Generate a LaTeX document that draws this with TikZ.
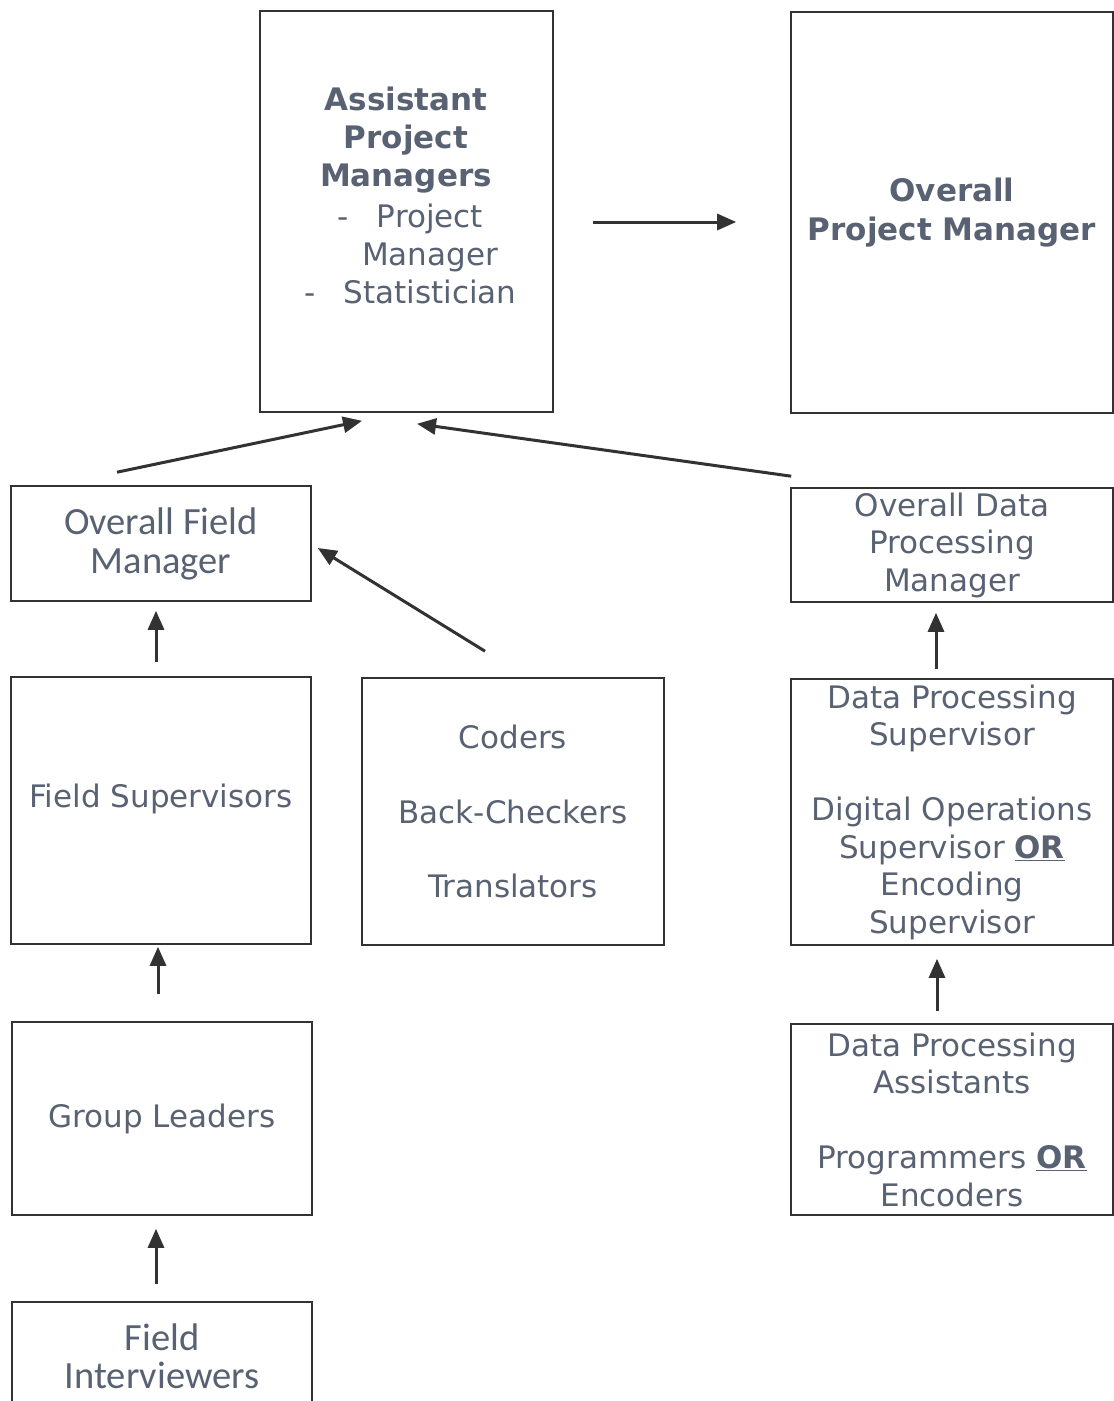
\documentclass[tikz,border=0pt]{standalone}
\usepackage{fontspec}
\setmainfont{DejaVu Sans}
\newfontfamily\calib{Carlito}
\usetikzlibrary{arrows.meta}
\definecolor{txtgray}{RGB}{88,98,114}
\definecolor{linegray}{RGB}{50,50,50}

\begin{document}
\begin{tikzpicture}[x=1pt,y=-1pt,
    box/.style={draw=linegray, line width=1.6pt, text=txtgray, align=center,
      font=\fontsize{31}{37.5}\selectfont},
    txt/.style={text=txtgray, align=center, font=\fontsize{31}{37.5}\selectfont},
    arr/.style={draw=linegray, line width=3pt,
      -{Triangle[length=19pt,width=16pt]}}]
    % Page frame (pixel grid, y running down)
    \clip (0,0) rectangle (1114,1401);
    \fill[white] (0,0) rectangle (1114,1401);

    % Top row
    \node[box, minimum width=293pt, minimum height=401pt] (apm) at (406.5,211.5) {};
    \node[txt, font=\bfseries\fontsize{31}{38}\selectfont] (apmhead) at (406,140)
      {Assistant\\Project\\Managers};
    \node[txt, font=\fontsize{31}{38}\selectfont] (apmlist) at (430,254)
      {\llap{-\hspace{28pt}}Project\\Manager\\\llap{-\hspace{28pt}}Statistician};
    \node[box, minimum width=322pt, minimum height=401pt,
      font=\bfseries\fontsize{31}{39}\selectfont] (opm) at (952,212.5)
      {Overall\\Project Manager};

    % Managers
    \node[box, minimum width=300pt, minimum height=115pt,
      font=\calib\fontsize{38.5}{39}\selectfont] (ofm) at (161,543.5)
      {Overall Field\\Manager};
    \node[box, minimum width=322pt, minimum height=114pt] (odpm) at (952,545)
      {Overall Data\\Processing\\Manager};

    % Supervisors and support staff
    \node[box, minimum width=300pt, minimum height=267pt] (fs) at (161,810.5) {};
    \node[txt] (fstext) at (161,799) {Field Supervisors};
    \node[box, minimum width=302pt, minimum height=267pt] (cbt) at (513,811.5)
      {Coders\\[37pt]Back-Checkers\\[37pt]Translators};
    \node[box, minimum width=322pt, minimum height=266pt] (dps) at (952,812)
      {Data Processing\\Supervisor\\[37.5pt]Digital Operations\\
       Supervisor \underline{\textbf{OR}}\\Encoding\\Supervisor};

    % Bottom levels
    \node[box, minimum width=300pt, minimum height=193pt] (gl) at (162,1118.5)
      {Group Leaders};
    \node[box, minimum width=322pt, minimum height=191pt] (dpa) at (952,1119.5)
      {Data Processing\\Assistants\\[37.5pt]Programmers \underline{\textbf{OR}}\\Encoders};
    \node[box, minimum width=300pt, minimum height=108pt,
      font=\calib\fontsize{38.5}{38}\selectfont] (fi) at (162,1356)
      {Field\\Interviewers};

    % Reporting arrows
    \draw[arr] ([shift={(39,10.5)}]apm.east) -- ([shift={(-54,9.5)}]opm.west);
    \draw[arr] ([shift={(-44,-13)}]ofm.north) -- ([shift={(-44.5,8)}]apm.south);
    \draw[arr] ([shift={(1,-11)}]odpm.north west) -- ([shift={(10.5,11)}]apm.south);
    \draw[arr] ([shift={(-28,-26)}]cbt.north) -- ([shift={(6,4.5)}]ofm.east);
    \draw[arr] ([shift={(-5,-14)}]fs.north) -- ([shift={(-5,9)}]ofm.south);
    \draw[arr] ([shift={(-4,-27)}]gl.north) -- ([shift={(-3,2)}]fs.south);
    \draw[arr] ([shift={(-6,-17)}]fi.north) -- ([shift={(-6,13)}]gl.south);
    \draw[arr] ([shift={(-16,-9)}]dps.north) -- ([shift={(-16,10)}]odpm.south);
    \draw[arr] ([shift={(-15,-12)}]dpa.north) -- ([shift={(-15,13)}]dps.south);
\end{tikzpicture}
\end{document}
